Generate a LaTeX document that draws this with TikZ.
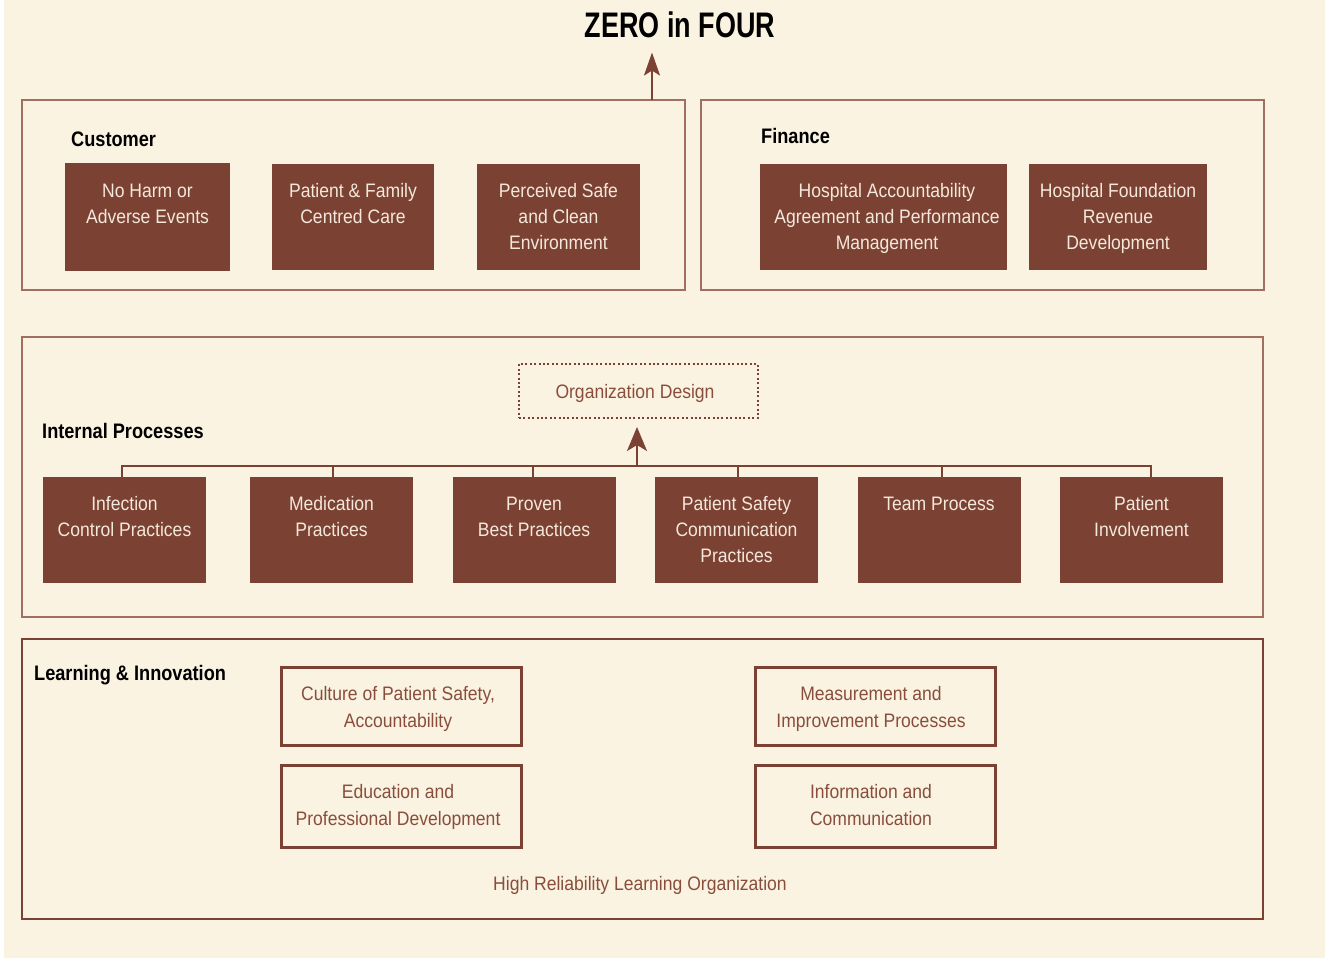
\documentclass[tikz,border=0pt]{standalone}
\usepackage{fontspec}
\setmainfont{Liberation Sans}[FakeStretch=0.9]
\newfontfamily\titlefont{Liberation Sans}[FakeStretch=0.76]
\newfontfamily\headfont{Liberation Sans}[FakeStretch=0.865]
\usetikzlibrary{arrows.meta}
\definecolor{cream}{HTML}{FAF3E2}
\definecolor{cbrown}{HTML}{7B4233}
\definecolor{cframe}{HTML}{A06F5F}
\definecolor{cltext}{HTML}{F4E8DC}
\definecolor{cbtext}{HTML}{8A4D3C}
\begin{document}
\begin{tikzpicture}[x=1pt,y=-1pt,
  bodyfont/.style={font=\fontsize{19.5}{26}\selectfont},
  frame/.style={draw=cframe, line width=1.3pt, fill=none},
  fillbox/.style={fill=cbrown, draw=none, inner sep=0pt},
  boxtxt/.style={bodyfont, text=cltext, align=center, inner sep=0pt, anchor=base},
  header/.style={font=\fontsize{21}{24}\selectfont\headfont\bfseries, text=black, inner sep=0pt, anchor=base west},
  outbox/.style={draw=cbrown, line width=3pt, font=\fontsize{19.5}{27}\selectfont, text=cbtext, align=center, inner sep=0pt, minimum width=240pt},
  conn/.style={draw=cbrown, line width=2pt},
  uparrow/.style={draw=cbrown, line width=2.2pt, -{Stealth[length=23pt, width=16pt, inset=5pt]}}
]
\useasboundingbox (0,0) rectangle (1325,958);
\fill[white] (0,0) rectangle (1325,958);
\fill[cream] (4,0) rectangle (1325,958);

% title
\node[font=\fontsize{35.5}{38}\selectfont\bfseries\titlefont, inner sep=0pt, anchor=base] (title) at (680,38) {ZERO in FOUR};

% frames
\node[frame, minimum width=663pt, minimum height=190pt, inner sep=0pt] (cust) at (353.5,195) {};
\node[frame, minimum width=563pt, minimum height=190pt, inner sep=0pt] (fin) at (982.5,195) {};
\node[frame, minimum width=1241pt, minimum height=280pt, inner sep=0pt] (intp) at (642.5,477) {};
\node[frame, draw=cbrown, line width=2pt, minimum width=1241pt, minimum height=280pt, inner sep=0pt] (learn) at (642.5,779) {};

\coordinate (topstart) at (652,100);
\draw[uparrow, shorten >=14pt] (topstart) -- (topstart |- title.south);

% Customer (anchor=base is the baseline of the last line)
\node[header] (hcust) at (71,146.5) {Customer};
\node[fillbox, minimum width=165pt, minimum height=108pt] (c1) at (147.5,217) {};
\node[boxtxt] (t1) at (147.5,223) {No Harm or\\Adverse Events};
\node[fillbox, minimum width=162pt, minimum height=106pt] (c2) at (353,217) {};
\node[boxtxt] (t2) at (353,223) {Patient \& Family\\Centred Care};
\node[fillbox, minimum width=163pt, minimum height=106pt] (c3) at (558.5,217) {};
\node[boxtxt] (t3) at (558.5,249) {Perceived Safe\\and Clean\\Environment};

% Finance
\node[header] (hfin) at (761,143.5) {Finance};
\node[fillbox, minimum width=247pt, minimum height=106pt] (f1) at (883.5,217) {};
\node[boxtxt] (t4) at (887,249) {Hospital Accountability\\Agreement and Performance\\Management};
\node[fillbox, minimum width=178pt, minimum height=106pt] (f2) at (1118,217) {};
\node[boxtxt] (t5) at (1118,249) {Hospital Foundation\\Revenue\\Development};

% Internal processes
\node[header] (hint) at (42,438.5) {Internal Processes};
\node[draw=cbrown, line width=2pt, dash pattern=on 2pt off 2.4pt, minimum width=239pt, minimum height=54pt, inner sep=0pt, bodyfont, text=cbtext] (org) at (638.5,391) {};
\node[bodyfont, text=cbtext, inner sep=0pt, anchor=base] (orgt) at (635,398) {Organization Design};

\foreach \n/\x in {p1/124.5, p2/331.5, p3/534, p4/736.5, p5/939, p6/1141.5}{
  \node[fillbox, minimum width=163pt, minimum height=106pt] (\n) at (\x,530) {};
}
\node[boxtxt] (tp1) at (124.5,536) {Infection\\Control Practices};
\node[boxtxt] (tp2) at (331.5,536) {Medication\\Practices};
\node[boxtxt] (tp3) at (534,536) {Proven\\Best Practices};
\node[boxtxt] (tp4) at (736.5,562) {Patient Safety\\Communication\\Practices};
\node[boxtxt] (tp5) at (939,510) {Team Process};
\node[boxtxt] (tp6) at (1141.5,536) {Patient\\Involvement};

\coordinate (bus) at (637,466);
\coordinate (s1) at ([xshift=-3pt]p1.north);
\coordinate (s2) at ([xshift=1.5pt]p2.north);
\coordinate (s3) at ([xshift=-1.5pt]p3.north);
\coordinate (s4) at ([xshift=1pt]p4.north);
\coordinate (s5) at ([xshift=3pt]p5.north);
\coordinate (s6) at ([xshift=9.5pt]p6.north);
\draw[conn] (s1) -- (s1 |- bus) -- (s6 |- bus) -- (s6);
\foreach \s in {s2,s3,s4,s5}{ \draw[conn] (\s) -- (\s |- bus); }
\draw[uparrow, shorten >=8pt, -{Stealth[length=24pt, width=20pt, inset=6pt]}] (bus) -- (bus |- org.south);

% Learning & Innovation
\node[header] (hlearn) at (34,680.5) {Learning \& Innovation};
\node[outbox, minimum height=78pt] (l1) at (401,706) {};
\node[outbox, draw=none, anchor=base] (lt1) at (398,727) {Culture of Patient Safety,\\Accountability};
\node[outbox, minimum height=82pt] (l2) at (401,806) {};
\node[outbox, draw=none, anchor=base] (lt2) at (398,825) {Education and\\Professional Development};
\node[outbox, minimum height=78pt] (l3) at (875,706) {};
\node[outbox, draw=none, anchor=base] (lt3) at (871,727) {Measurement and\\Improvement Processes};
\node[outbox, minimum height=82pt] (l4) at (875,806) {};
\node[outbox, draw=none, anchor=base] (lt4) at (871,825) {Information and\\Communication};
\node[bodyfont, text=cbtext, inner sep=0pt, anchor=base] (hrlo) at (640,890) {High Reliability Learning Organization};
\end{tikzpicture}
\end{document}
